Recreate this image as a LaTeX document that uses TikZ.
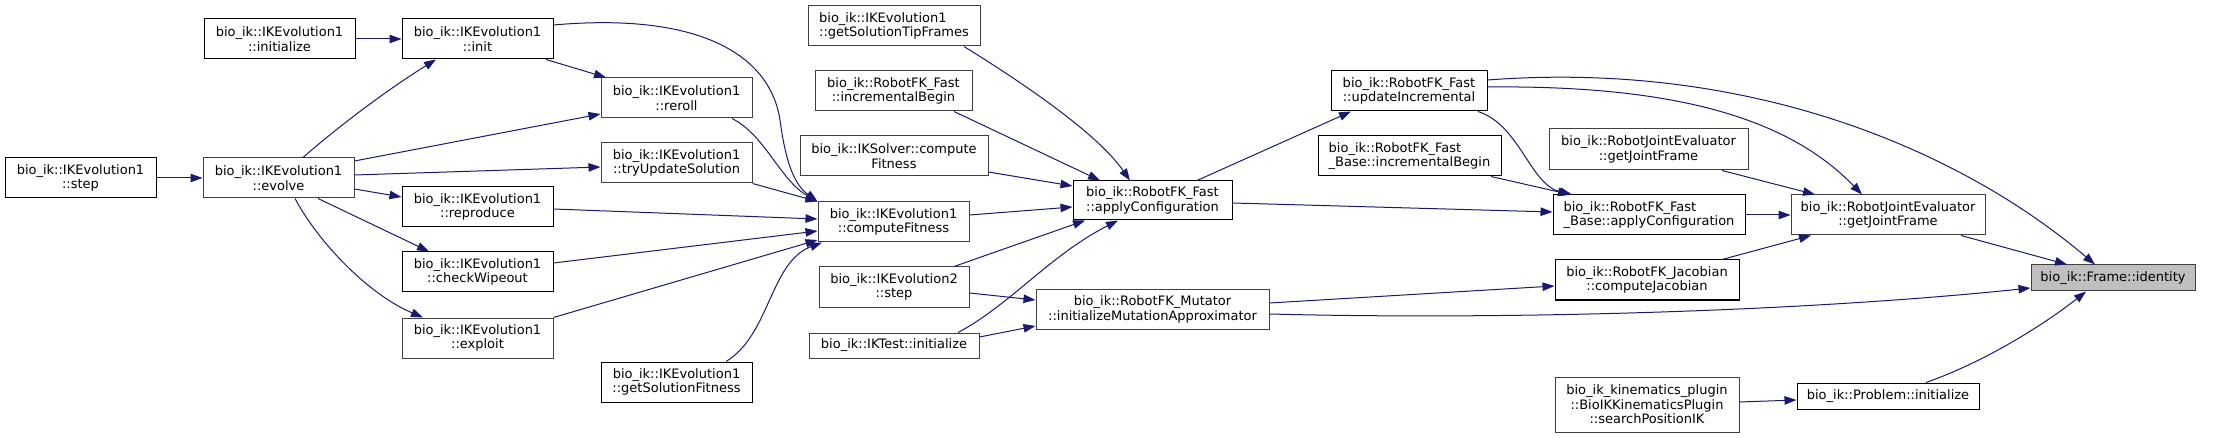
\documentclass[tikz,border=0pt]{standalone}
\usepackage{fontspec}
\setmainfont{DejaVu Sans}
\usetikzlibrary{arrows.meta}
\definecolor{edgeblue}{HTML}{191970}
\definecolor{nodegray}{HTML}{404040}
\definecolor{idfill}{HTML}{BFBFBF}
\tikzset{
  box/.style={draw=black, line width=1pt, inner sep=0pt, align=center,
    font=\fontsize{13}{14.5}\selectfont, text=black},
  gbox/.style={draw=nodegray},
  lbox/.style={align=left},
  e/.style={draw=edgeblue, line width=1pt, -{Triangle[length=12pt,width=8.5pt]}, fill=none},
}
\newcommand\mybox[7][]{\node[box,#1,minimum width={#5-#3},minimum height={#6-#4}] (#2) at ({(#3+#5)/2},{(#4+#6)/2}) {#7};}
\begin{document}
\begin{tikzpicture}[x=1pt,y=-1pt]
\useasboundingbox (0,0) rectangle (2216,438);
% nodes
\mybox{step1}{5}{158}{156}{198}{bio\_ik::IKEvolution1\\::step}
\mybox{initialize}{204}{19}{355}{59}{bio\_ik::IKEvolution1\\::initialize}
\mybox[gbox]{evolve}{203}{158}{354}{198}{bio\_ik::IKEvolution1\\::evolve}
\mybox{init}{402}{19}{553}{59}{bio\_ik::IKEvolution1\\::init}
\mybox{reproduce}{402}{187}{553}{227}{bio\_ik::IKEvolution1\\::reproduce}
\mybox{wipe}{402}{252}{553}{292}{bio\_ik::IKEvolution1\\::checkWipeout}
\mybox[gbox]{exploit}{402}{318}{553}{358}{bio\_ik::IKEvolution1\\::exploit}
\mybox[gbox]{reroll}{601}{78}{752}{118}{bio\_ik::IKEvolution1\\::reroll}
\mybox[gbox]{tryupd}{601}{143}{752}{183}{bio\_ik::IKEvolution1\\::tryUpdateSolution}
\mybox{fitsol}{601}{362}{752}{402}{bio\_ik::IKEvolution1\\::getSolutionFitness}
\mybox[gbox,lbox]{tipframes}{808}{6}{980}{46}{bio\_ik::IKEvolution1\\::getSolutionTipFrames}
\mybox[gbox]{incbegin}{815}{71}{972}{111}{bio\_ik::RobotFK\_Fast\\::incrementalBegin}
\mybox[gbox]{iksolver}{800}{136}{988}{176}{bio\_ik::IKSolver::compute\\Fitness}
\mybox[gbox]{cfit}{818}{202}{969}{242}{bio\_ik::IKEvolution1\\::computeFitness}
\mybox[gbox]{evo2step}{819}{267}{969}{307}{bio\_ik::IKEvolution2\\::step}
\mybox[gbox]{iktest}{809}{333}{979}{358}{bio\_ik::IKTest::initialize}
\mybox{apply}{1073}{181}{1232}{220}{bio\_ik::RobotFK\_Fast\\::applyConfiguration}
\mybox[gbox]{mutator}{1036}{290}{1269}{329}{bio\_ik::RobotFK\_Mutator\\::initializeMutationApproximator}
\mybox{updinc}{1331}{71}{1487}{111}{bio\_ik::RobotFK\_Fast\\::updateIncremental}
\mybox[lbox]{baseinc}{1318}{136}{1501}{176}{bio\_ik::RobotFK\_Fast\\\_Base::incrementalBegin}
\mybox[lbox]{baseapply}{1553}{195}{1745}{235}{bio\_ik::RobotFK\_Fast\\\_Base::applyConfiguration}
\mybox[gbox]{rjeleft}{1549}{129}{1748}{170}{bio\_ik::RobotJointEvaluator\\::getJointFrame}
\mybox{jac}{1555}{260}{1739}{300}{bio\_ik::RobotFK\_Jacobian\\::computeJacobian}
\mybox[gbox]{plugin}{1555}{377}{1739}{432}{bio\_ik\_kinematics\_plugin\\::BioIKKinematicsPlugin\\::searchPositionIK}
\mybox[gbox]{rje}{1791}{195}{1985}{235}{bio\_ik::RobotJointEvaluator\\::getJointFrame}
\mybox[gbox,fill=idfill]{identity}{2031}{265}{2195}{291}{bio\_ik::Frame::identity}
\mybox{problem}{1797}{383}{1979}{409}{bio\_ik::Problem::initialize}
% edges
\draw[e] (step1.east |- 0,178) -- (evolve.west |- 0,178);
\draw[e] (initialize.east |- 0,39) -- (init.west |- 0,39);
\draw[e] (evolve.north -| 303,0) .. controls (340,125) and (390,88) .. (init.south -| 436,0);
\draw[e] (evolve.east |- 0,161) -- (reroll.west |- 0,114);
\draw[e] (evolve.east |- 0,175) -- (tryupd.west |- 0,167);
\draw[e] (evolve.east |- 0,189) -- (reproduce.west |- 0,197);
\draw[e] (evolve.south -| 318,0) -- (wipe.north -| 429,0);
\draw[e] (evolve.south -| 295,0) .. controls (320,245) and (370,295) .. (exploit.north -| 423,0);
\draw[e] (init.south -| 546,0) -- (reroll.north -| 606,0);
\draw[e] (init.east |- 0,25) .. controls (700,12) and (770,55) .. (780,120) .. controls (786,165) and (795,185) .. (cfit.north west);
\draw[e] (reroll.south -| 732,0) .. controls (765,135) and (780,180) .. (cfit.north west);
\draw[e] (tryupd.south east) -- (cfit.north west);
\draw[e] (reproduce.east |- 0,209) -- (cfit.west |- 0,219);
\draw[e] (wipe.east |- 0,263) -- (cfit.west |- 0,231);
\draw[e] (exploit.north east) -- (cfit.west |- 0,240);
\draw[e] (fitsol.north -| 726,0) .. controls (770,335) and (770,262) .. (cfit.south -| 822,0);
\draw[e] (cfit.east |- 0,215) -- (apply.west |- 0,207);
\draw[e] (tipframes.south -| 964,0) .. controls (1010,75) and (1095,130) .. (apply.north -| 1130,0);
\draw[e] (incbegin.south -| 954,0) -- (apply.north -| 1100,0);
\draw[e] (iksolver.east |- 0,172) -- (apply.west |- 0,186);
\draw[e] (evo2step.north -| 954,0) -- (apply.south -| 1085,0);
\draw[e] (iktest.north -| 958,0) .. controls (1010,305) and (1050,255) .. (apply.south -| 1118,0);
\draw[e] (evo2step.east |- 0,293) -- (mutator.west |- 0,300);
\draw[e] (iktest.east |- 0,337) -- (mutator.west |- 0,326);
\draw[e] (apply.north -| 1197,0) -- (updinc.south -| 1351,0);
\draw[e] (apply.east |- 0,203) -- (baseapply.west |- 0,212);
\draw[e] (updinc.south -| 1478,0) .. controls (1520,125) and (1530,185) .. (baseapply.north -| 1572,0);
\draw[e] (baseinc.south -| 1491,0) -- (baseapply.north -| 1570,0);
\draw[e] (updinc.east |- 0,87) .. controls (1680,85) and (1790,120) .. (rje.north -| 1862,0);
\draw[e] (updinc.east |- 0,80) .. controls (1750,60) and (1960,150) .. (identity.north -| 2095,0);
\draw[e] (rjeleft.south -| 1722,0) -- (rje.north -| 1815,0);
\draw[e] (baseapply.east |- 0,215) -- (rje.west |- 0,215);
\draw[e] (jac.north -| 1722,0) -- (rje.south -| 1811,0);
\draw[e] (rje.south -| 1961,0) -- (identity.north -| 2067,0);
\draw[e] (mutator.east |- 0,303) -- (jac.west |- 0,286);
\draw[e] (mutator.east |- 0,314) .. controls (1500,320) and (1800,312) .. (identity.west |- 0,288);
\draw[e] (plugin.east |- 0,402) -- (problem.west |- 0,400);
\draw[e] (problem.north -| 1926,0) .. controls (1990,360) and (2050,320) .. (identity.south -| 2086,0);
\end{tikzpicture}
\end{document}
